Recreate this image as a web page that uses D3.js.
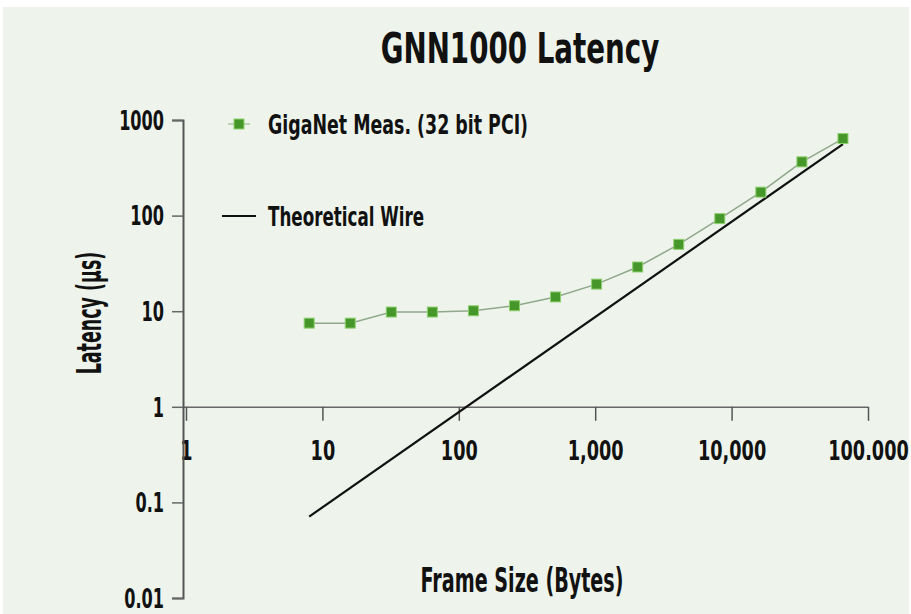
<!DOCTYPE html>
<html>
<head>
<meta charset="utf-8">
<script src="https://cdn.jsdelivr.net/npm/d3@7"></script>
<style>
  body { margin: 0; background: #ffffff; }
  svg text {
    font-family: "DejaVu Sans", sans-serif;
    font-weight: bold;
    fill: #111;
  }
</style>
</head>
<body>
<svg id="chart" width="911" height="614"></svg>
<script>
// frame sizes (bytes) and measured latency (us)
var frameSizes = [8, 16, 32, 64, 128, 256, 512, 1024, 2048, 4096, 8192, 16384, 32768, 65536];
var measLatency = [7.5, 7.5, 9.8, 9.8, 10.1, 11.4, 14.1, 19.2, 29, 50, 93, 176, 365, 640];

// theoretical wire latency endpoints
var wireSizes = [8, 65536];
var wireLatency = [0.071, 560];

var xTicks = [1, 10, 100, 1000, 10000, 100000];
var xTickLabels = ["1", "10", "100", "1,000", "10,000", "100.000"];
var yTicks = [0.01, 0.1, 1, 10, 100, 1000];
var yTickLabels = ["0.01", "0.1", "1", "10", "100", "1000"];

var dimensions = {
  width: 911,
  height: 614,
  axisX: 183,
};

// no condensed font installed, so squeeze text horizontally
function addText(x, y, size, sx, str, rotate) {
  return svg
    .append("text")
    .attr(
      "transform",
      "translate(" + x + "," + y + ")" + (rotate ? " rotate(-90)" : "") + " scale(" + sx + ",1)"
    )
    .style("font-size", size + "px")
    .text(str);
}

var svg = d3.select("#chart");

// background panel
svg
  .append("rect")
  .attr("x", 3)
  .attr("y", 7)
  .attr("width", 906)
  .attr("height", 607)
  .attr("fill", "#eef4ec");

// set up scales
var xScale = d3.scaleLog().domain([1, 100000]).range([186, 868]);
var yScale = d3.scaleLog().domain([0.01, 1000]).range([598, 120]);

// title
addText(520, 63, 42, 0.66, "GNN1000 Latency").attr("text-anchor", "middle");

// x axis crossing at latency = 1
var xAxis = d3
  .axisBottom(xScale)
  .tickValues(xTicks)
  .tickFormat(function (d, i) {
    return xTickLabels[i];
  })
  .tickSizeOuter(0)
  .tickSize(14)
  .tickPadding(21);

var xG = svg
  .append("g")
  .attr("transform", "translate(0," + yScale(1) + ")")
  .call(xAxis);
xG.select(".domain")
  .attr("d", "M" + dimensions.axisX + ",0.5H" + xScale(100000))
  .attr("stroke", "#666")
  .attr("stroke-width", 1.5);
xG.selectAll(".tick line").attr("stroke", "#555").attr("stroke-width", 1.5);
xG.selectAll(".tick text")
  .style("font-size", "26px")
  .attr("transform", "scale(0.68,1)");

// y axis (drawn after x axis so the "1" label sits behind it)
var yAxis = d3
  .axisLeft(yScale)
  .tickValues(yTicks)
  .tickFormat(function (d, i) {
    return yTickLabels[i];
  })
  .tickSize(11)
  .tickPadding(8);

var yG = svg
  .append("g")
  .attr("transform", "translate(" + dimensions.axisX + ",0)")
  .call(yAxis);
yG.select(".domain").attr("stroke", "#555").attr("stroke-width", 2);
yG.selectAll(".tick line").attr("stroke", "#666").attr("stroke-width", 1.5);
yG.selectAll(".tick text")
  .style("font-size", "26px")
  .attr("x", -19 / 0.62)
  .attr("dy", "0.36em")
  .attr("transform", "scale(0.62,1)");

// axis titles
addText(101, 313, 33, 0.53, "Latency (\u00b5s)", true).attr("text-anchor", "middle");
addText(522, 592, 33, 0.58, "Frame Size (Bytes)").attr("text-anchor", "middle");

// theoretical wire line
var wireData = wireSizes.map(function (d, i) {
  return { size: d, lat: wireLatency[i] };
});
var line = d3
  .line()
  .x(function (d) {
    return xScale(d.size);
  })
  .y(function (d) {
    return yScale(d.lat);
  });

svg
  .append("path")
  .datum(wireData)
  .attr("d", line)
  .attr("fill", "none")
  .attr("stroke", "#111")
  .attr("stroke-width", 2.2);

// measured series
var measData = frameSizes.map(function (d, i) {
  return { size: d, lat: measLatency[i] };
});

svg
  .append("path")
  .datum(measData)
  .attr("d", line)
  .attr("fill", "none")
  .attr("stroke", "#8fa88a")
  .attr("stroke-width", 1.5);

svg
  .selectAll(".meas")
  .data(measData)
  .enter()
  .append("rect")
  .attr("class", "meas")
  .attr("x", function (d) {
    return xScale(d.size) - 5;
  })
  .attr("y", function (d) {
    return yScale(d.lat) - 5;
  })
  .attr("width", 10)
  .attr("height", 10)
  .attr("fill", "#46972a")
  .attr("stroke", "#8fd070")
  .attr("stroke-width", 1);

// legend
svg
  .append("line")
  .attr("x1", 228)
  .attr("x2", 250)
  .attr("y1", 124)
  .attr("y2", 124)
  .attr("stroke", "#a8c8a0")
  .attr("stroke-width", 1.5);
svg
  .append("rect")
  .attr("x", 234)
  .attr("y", 119)
  .attr("width", 10)
  .attr("height", 10)
  .attr("fill", "#46972a")
  .attr("stroke", "#8fd070");
addText(268, 134, 27, 0.645, "GigaNet Meas. (32 bit PCI)");

svg
  .append("line")
  .attr("x1", 222)
  .attr("x2", 256)
  .attr("y1", 216)
  .attr("y2", 216)
  .attr("stroke", "#111")
  .attr("stroke-width", 2.2);
addText(268, 226, 27, 0.62, "Theoretical Wire");
</script>
</body>
</html>
